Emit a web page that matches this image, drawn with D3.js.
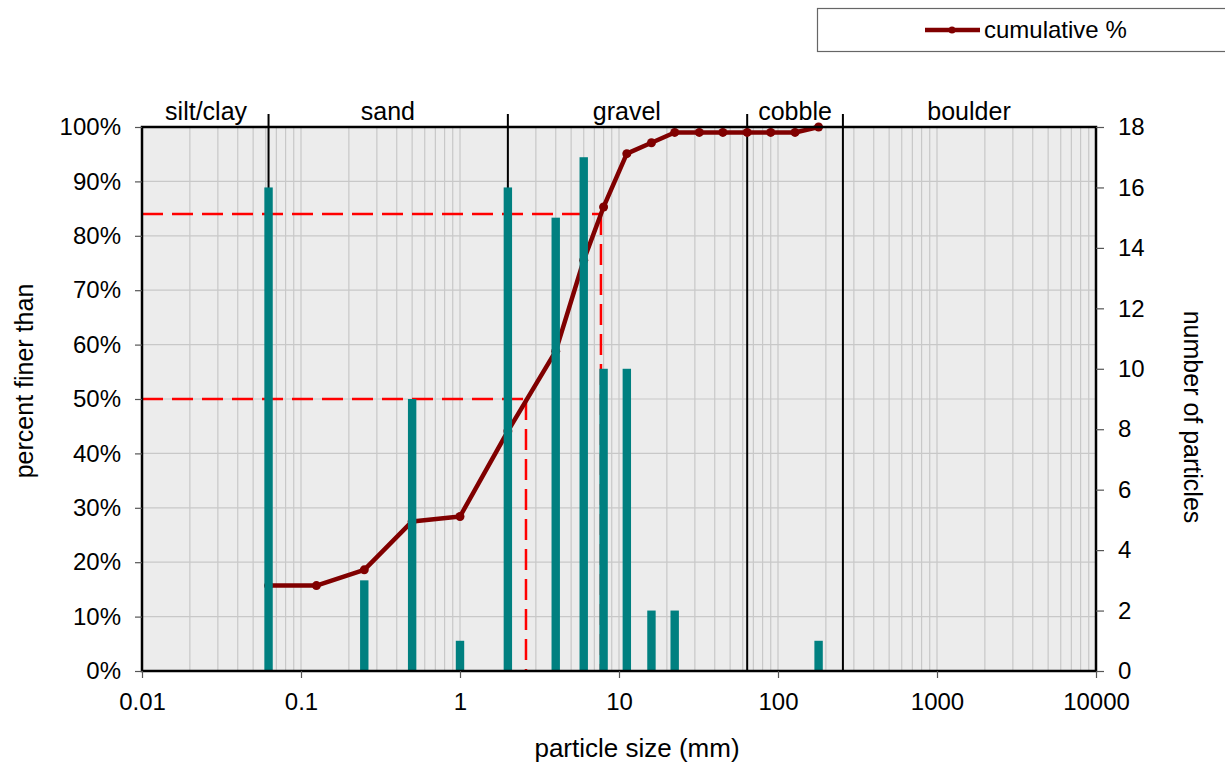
<!DOCTYPE html>
<html>
<head>
<meta charset="utf-8">
<script src="https://cdn.jsdelivr.net/npm/d3@7"></script>
<style>
  body { margin: 0; background: #fff; }
  text { font-family: "Liberation Sans", Arial, sans-serif; fill: #000; }
</style>
</head>
<body>
<svg class="main" width="1225" height="765"></svg>
<script>
// particle sizes (mm) of the sieve classes
const sizes = [0.0625, 0.125, 0.25, 0.5, 1, 2, 4, 6, 8, 11.2, 16, 22.4, 32, 45, 64, 90, 128, 180]
// cumulative % finer
const cumulative = [15.7, 15.7, 18.6, 27.5, 28.4, 44.1, 58.8, 75.5, 85.3, 95.1, 97.1, 99.0, 99.0, 99.0, 99.0, 99.0, 99.0, 100]
// histogram (number of particles)
const barSizes = [0.0625, 0.25, 0.5, 1, 2, 4, 6, 8, 11.2, 16, 22.4, 180]
const barCounts = [16, 3, 9, 1, 16, 15, 17, 10, 10, 2, 2, 1]
// class boundaries and names
const bounds = [0.0625, 2, 64, 256]
const classNames = ["silt/clay", "sand", "gravel", "cobble", "boulder"]
const classCenters = [0.0253, 0.352, 11.2, 128, 1590]
// D50 / D84
const dValues = [2.6, 7.7]
const dPercents = [50, 84]
const xTicks = [0.01, 0.1, 1, 10, 100, 1000, 10000]
const pctTicks = [0, 10, 20, 30, 40, 50, 60, 70, 80, 90, 100]
const countTicks = [0, 2, 4, 6, 8, 10, 12, 14, 16, 18]

const svg = d3.select("svg.main")
const pLeft = 142, pRight = 1096, pTop = 127, pBottom = 671
const fs = 24      // tick labels
const fsTitle = 26 // axis titles / class names

const x = d3.scaleLog().domain([0.01, 10000]).range([pLeft, pRight])
const yP = d3.scaleLinear().domain([0, 100]).range([pBottom, pTop])
const yC = d3.scaleLinear().domain([0, 18]).range([pBottom, pTop])

// background
svg.append("rect")
    .attr("x", pLeft).attr("y", pTop)
    .attr("width", pRight - pLeft).attr("height", pBottom - pTop)
    .attr("fill", "#ececec")

// vertical grid (log minors)
let minors = []
for (let e = -2; e < 4; e++) {
    for (let m = 1; m <= 9; m++) minors.push(m * Math.pow(10, e))
}
svg.append("g").selectAll("line").data(minors).join("line")
    .attr("x1", d => x(d)).attr("x2", d => x(d))
    .attr("y1", pTop).attr("y2", pBottom)
    .attr("stroke", "#c8c8c8").attr("stroke-width", 1.2)

// horizontal grid
svg.append("g").selectAll("line").data(pctTicks).join("line")
    .attr("x1", pLeft).attr("x2", pRight)
    .attr("y1", d => yP(d)).attr("y2", d => yP(d))
    .attr("stroke", "#c8c8c8").attr("stroke-width", 1.2)

// class boundaries
svg.append("g").selectAll("line").data(bounds).join("line")
    .attr("x1", d => x(d)).attr("x2", d => x(d))
    .attr("y1", 114).attr("y2", pBottom)
    .attr("stroke", "#000").attr("stroke-width", 2)

svg.append("g").selectAll("text").data(classNames).join("text")
    .attr("x", (d, i) => x(classCenters[i]))
    .attr("y", 120)
    .attr("text-anchor", "middle")
    .attr("font-size", fsTitle - 1)
    .text(d => d)

// D50 / D84 dashed guides
const dash = svg.append("g")
    .attr("stroke", "#ff0000").attr("stroke-width", 2.5)
    .attr("stroke-dasharray", "21,9").attr("fill", "none")
dValues.forEach((v, i) => {
    dash.append("path")
        .attr("d", `M${pLeft},${yP(dPercents[i])}H${x(v)}`)
    dash.append("path")
        .attr("d", `M${x(v)},${yP(dPercents[i])}V${pBottom}`)
})

// cumulative line
const pts = sizes.map((s, i) => ({s: s, v: cumulative[i]}))
const line = d3.line()
    .x(d => x(d.s))
    .y(d => yP(d.v))
svg.append("path")
    .attr("d", line(pts))
    .attr("stroke", "#800000")
    .attr("stroke-width", 4.5)
    .attr("stroke-linejoin", "round")
    .attr("fill", "none")
svg.append("g").selectAll("circle").data(pts).join("circle")
    .attr("cx", d => x(d.s)).attr("cy", d => yP(d.v))
    .attr("r", 4.5)
    .attr("fill", "#800000")

// bars
svg.append("g").selectAll("rect").data(barSizes).join("rect")
    .attr("x", d => x(d) - 4.2)
    .attr("y", (d, i) => yC(barCounts[i]))
    .attr("width", 8.4)
    .attr("height", (d, i) => pBottom - yC(barCounts[i]))
    .attr("fill", "#008080")

// frame
svg.append("rect")
    .attr("x", pLeft).attr("y", pTop)
    .attr("width", pRight - pLeft).attr("height", pBottom - pTop)
    .attr("fill", "none").attr("stroke", "#000").attr("stroke-width", 2.5)

// axes
const axisStyle = g => {
    g.select(".domain").remove()
    g.selectAll(".tick line").attr("stroke", "#555").attr("stroke-width", 1.2)
    g.selectAll(".tick text").attr("font-size", fs)
        .attr("font-family", '"Liberation Sans", Arial, sans-serif')
}
svg.append("g")
    .attr("transform", `translate(0,${pBottom})`)
    .call(d3.axisBottom(x).tickValues(xTicks).tickFormat(d3.format("~g")).tickSize(7).tickPadding(15))
    .call(axisStyle)
svg.append("g")
    .attr("transform", `translate(${pLeft},0)`)
    .call(d3.axisLeft(yP).tickValues(pctTicks).tickFormat(d => d + "%").tickSize(7).tickPadding(14))
    .call(axisStyle)
svg.append("g")
    .attr("transform", `translate(${pRight},0)`)
    .call(d3.axisRight(yC).tickValues(countTicks).tickSize(8).tickPadding(14))
    .call(axisStyle)

// axis titles
svg.append("text")
    .attr("transform", "translate(33,381) rotate(-90)")
    .attr("text-anchor", "middle").attr("font-size", fsTitle - 1)
    .text("percent finer than")
svg.append("text")
    .attr("transform", "translate(1184,417) rotate(90)")
    .attr("text-anchor", "middle").attr("font-size", fsTitle - 1)
    .text("number of particles")
svg.append("text")
    .attr("x", 637).attr("y", 757)
    .attr("text-anchor", "middle").attr("font-size", fsTitle)
    .text("particle size (mm)")

// legend
const lg = svg.append("g")
lg.append("rect")
    .attr("x", 817.5).attr("y", 8.5).attr("width", 420).attr("height", 43)
    .attr("fill", "#fff").attr("stroke", "#666").attr("stroke-width", 1.2)
lg.append("line")
    .attr("x1", 925).attr("x2", 980).attr("y1", 30).attr("y2", 30)
    .attr("stroke", "#800000").attr("stroke-width", 4.5)
lg.append("circle")
    .attr("cx", 952).attr("cy", 30).attr("r", 3.5).attr("fill", "#800000")
lg.append("text")
    .attr("x", 984).attr("y", 38).attr("font-size", fs)
    .text("cumulative %")
</script>
</body>
</html>
